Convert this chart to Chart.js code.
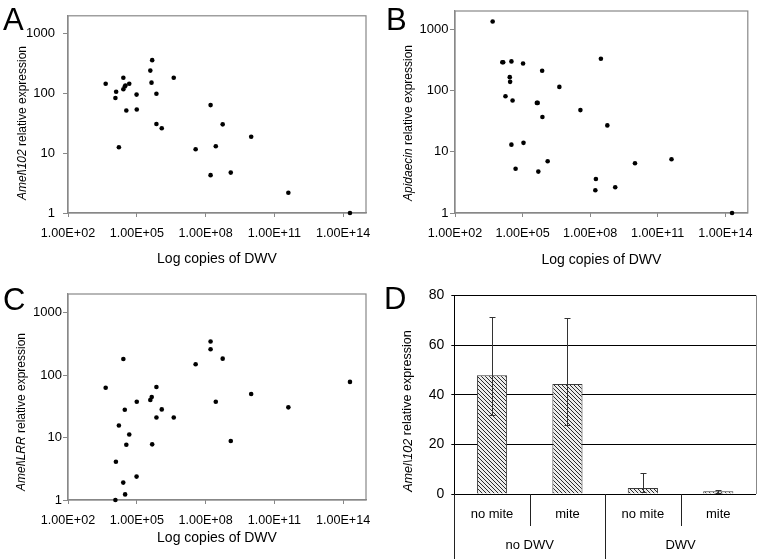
<!DOCTYPE html>
<html lang="en">
<head>
<meta charset="UTF-8">
<title>DWV load and honey bee immune gene expression</title>
<script src="https://cdn.jsdelivr.net/npm/chart.js"></script>
<style>
  body { margin: 0; background: #fff; }
  .figure { position: relative; width: 762px; height: 559px; }
  .panel { position: absolute; }
</style>
</head>
<body>
<div class="figure">
  <canvas class="panel" id="chartA" width="381" height="280" style="left:0;top:0"></canvas>
  <canvas class="panel" id="chartB" width="381" height="280" style="left:381px;top:0"></canvas>
  <canvas class="panel" id="chartC" width="381" height="279" style="left:0;top:280px"></canvas>
  <canvas class="panel" id="chartD" width="381" height="279" style="left:381px;top:280px"></canvas>
</div>

<script>
// axis ticks
const copyTicks = [1e2, 1e5, 1e8, 1e11, 1e14];
const expressionTicks = [1, 10, 100, 1000];
const barTicks = [0, 20, 40, 60, 80];

// A: Amel\102 vs DWV copies
const copiesA = [4.4e3, 1.26e4, 1.17e4, 1.66e4, 2.6e4, 2.6e4, 3.0e4, 3.2e4, 3.5e4, 4.7e4, 9.8e4, 1.0e5, 3.9e5, 4.4e5,
                 4.7e5, 7.2e5, 7.2e5, 1.23e6, 4.1e6, 3.7e7, 1.66e8, 1.66e8, 2.8e8, 5.6e8, 1.26e9, 9.8e9, 4.1e11, 2.0e14];
const expressionA = [146, 107, 84, 12.6, 184, 118, 131, 136, 52, 146, 96, 54, 242, 152,
                     362, 99, 30.9, 26.2, 184, 11.7, 64, 4.3, 13.1, 30.5, 4.75, 18.9, 2.18, 1.0];

// B: Apidaecin vs DWV copies
const copiesB = [4.7e3, 1.26e4, 1.38e4, 3.2e4, 1.05e5, 2.7e4, 2.8e4, 1.74e4, 3.6e4, 7.4e5, 4.3e6, 4.3e5, 4.7e5, 7.6e5,
                 3.7e7, 3.0e8, 5.8e8, 3.2e4, 1.1e5, 4.9e4, 5.0e5, 1.3e6, 1.8e8, 1.7e8, 1.3e9, 9.8e9, 4.1e11, 2.0e14];
const expressionB = [1350, 290, 290, 300, 278, 166, 139, 81, 69, 211, 115, 63, 63, 37,
                     48, 331, 27, 13.1, 14, 5.3, 4.75, 7.0, 3.6, 2.35, 2.63, 6.5, 7.55, 1.0];

// C: Amel\LRR vs DWV copies
const copiesC = [4.4e3, 1.23e4, 1.17e4, 1.66e4, 2.6e4, 2.57e4, 3.0e4, 3.1e4, 3.5e4, 4.7e4, 1.0e5, 9.8e4, 3.9e5, 4.5e5,
                 4.7e5, 7.2e5, 7.2e5, 1.23e6, 4.1e6, 3.7e7, 1.66e8, 1.66e8, 2.8e8, 5.6e8, 1.26e9, 9.8e9, 4.1e11, 2.0e14];
const expressionC = [63, 4.1, 1.0, 15.6, 182, 1.9, 27.9, 1.23, 7.7, 11.2, 37.6, 2.37, 40, 44.6,
                     7.8, 64.6, 21, 28.3, 21, 150, 346, 261, 37.6, 184, 8.8, 50, 30.5, 78];

// D: Amel\102 by mite / DWV status
const treatments = ['no mite', 'mite', 'no mite', 'mite'];
const dwvGroups = ['no DWV', 'DWV'];
const meanExpression = [47.8, 44.3, 2.4, 1.1];
const errHigh = [71.5, 70.9, 8.5, 1.8];
const errLow = [31.9, 27.6, 0.8, 0.6];

Chart.defaults.font.family = '"Liberation Sans", Arial, sans-serif';
Chart.defaults.color = '#000';

function sci(v) {
    const [m, e] = v.toExponential(2).split('e');
    const n = parseInt(e, 10);
    return m + 'E' + (n < 0 ? '-' : '+') + String(Math.abs(n)).padStart(2, '0');
}

const panelLetter = {
    id: 'panelLetter',
    afterDraw(chart, args, opts) {
        const ctx = chart.ctx;
        ctx.save();
        ctx.font = '31px "Liberation Sans", Arial, sans-serif';
        ctx.fillStyle = '#000';
        ctx.textBaseline = 'alphabetic';
        ctx.fillText(opts.text, opts.x, opts.y);
        ctx.restore();
    }
};

// y title with the gene name in italics
const yTitle = {
    id: 'yTitle',
    afterDraw(chart, args, opts) {
        const ctx = chart.ctx;
        const size = opts.size || 12;
        const italic = 'italic ' + size + 'px "Liberation Sans", Arial, sans-serif';
        const plain = size + 'px "Liberation Sans", Arial, sans-serif';
        ctx.save();
        ctx.font = italic;
        const w1 = ctx.measureText(opts.gene).width;
        ctx.font = plain;
        const w2 = ctx.measureText(' relative expression').width;
        ctx.translate(opts.x, opts.y);
        ctx.rotate(-Math.PI / 2);
        ctx.fillStyle = '#000';
        ctx.textBaseline = 'middle';
        ctx.textAlign = 'left';
        const start = -(w1 + w2) / 2;
        ctx.font = italic;
        ctx.fillText(opts.gene, start, 0);
        ctx.font = plain;
        ctx.fillText(' relative expression', start + w1, 0);
        ctx.restore();
    }
};

const boxBorder = {
    id: 'boxBorder',
    beforeDatasetsDraw(chart) {
        const {ctx, chartArea: a} = chart;
        ctx.save();
        ctx.strokeStyle = '#888';
        ctx.lineWidth = 1.2;
        ctx.strokeRect(a.left, a.top, a.right - a.left, a.bottom - a.top);
        ctx.restore();
    }
};

const errorBars = {
    id: 'errorBars',
    afterDatasetsDraw(chart) {
        const {ctx, scales: {y}} = chart;
        const bars = chart.getDatasetMeta(0).data;
        ctx.save();
        ctx.strokeStyle = '#333';
        ctx.lineWidth = 1;
        bars.forEach((bar, i) => {
            const cx = Math.round(bar.x) + 0.5;
            const top = Math.round(y.getPixelForValue(errHigh[i])) + 0.5;
            const bottom = Math.round(y.getPixelForValue(errLow[i])) + 0.5;
            ctx.beginPath();
            ctx.moveTo(cx, top); ctx.lineTo(cx, bottom);
            ctx.moveTo(cx - 3, top); ctx.lineTo(cx + 3, top);
            ctx.moveTo(cx - 3, bottom); ctx.lineTo(cx + 3, bottom);
            ctx.stroke();
        });
        ctx.restore();
    }
};

// vertical lines between the category labels under panel D
const categoryDividers = {
    id: 'categoryDividers',
    afterDraw(chart) {
        const {ctx, chartArea: a, scales: {x, x2}} = chart;
        ctx.save();
        ctx.lineWidth = 1;
        for (let i = 0; i <= treatments.length; i++) {
            const px = Math.round(x.getPixelForValue(i - 0.5)) + 0.5;
            ctx.beginPath();
            if (i === treatments.length) {
                ctx.strokeStyle = '#888';
                ctx.moveTo(px, a.top); ctx.lineTo(px, a.bottom);
            } else {
                ctx.strokeStyle = '#222';
                ctx.moveTo(px, a.bottom);
                ctx.lineTo(px, i % 2 === 0 ? x2.bottom : x.bottom);
            }
            ctx.stroke();
        }
        ctx.restore();
    }
};

function hatch() {
    const c = document.createElement('canvas');
    c.width = 4; c.height = 4;
    const g = c.getContext('2d');
    g.fillStyle = '#ececec';
    g.fillRect(0, 0, 4, 4);
    g.strokeStyle = '#2a2a2a';
    g.lineWidth = 1;
    g.beginPath();
    g.moveTo(-1, -1); g.lineTo(5, 5);
    g.moveTo(-1, 3); g.lineTo(1, 5);
    g.moveTo(3, -1); g.lineTo(5, 1);
    g.stroke();
    return g.createPattern(c, 'repeat');
}

function scatterPanel(canvasId, letter, gene, copies, expression, lay) {
    return new Chart(document.getElementById(canvasId), {
        type: 'scatter',
        data: {
            datasets: [{
                data: copies.map((c, i) => ({x: c, y: expression[i]})),
                backgroundColor: '#000',
                pointRadius: 2.3,
                borderWidth: 0,
                clip: false
            }]
        },
        options: {
            responsive: false,
            animation: false,
            layout: { padding: lay.padding },
            plugins: {
                legend: { display: false },
                tooltip: { enabled: false },
                panelLetter: { text: letter, x: lay.letter[0], y: lay.letter[1] },
                yTitle: { gene: gene, x: lay.title[0], y: lay.title[1], size: 12 }
            },
            scales: {
                x: {
                    type: 'logarithmic',
                    min: 1e2,
                    max: 1e15,
                    afterBuildTicks: s => { s.ticks = copyTicks.map(v => ({value: v})); },
                    afterFit: s => { s.height = lay.xHeight; },
                    ticks: { callback: v => sci(v), autoSkip: false, maxRotation: 0, padding: lay.xPad, font: { size: 12.6 } },
                    grid: { drawOnChartArea: false, color: '#888', tickLength: 4 },
                    border: { color: '#888', width: 1.2 },
                    title: { display: true, text: 'Log copies of DWV', font: { size: 14 }, padding: { top: 0, bottom: lay.xTitlePad } }
                },
                y: {
                    type: 'logarithmic',
                    min: 1,
                    max: 2000,
                    afterBuildTicks: s => { s.ticks = expressionTicks.map(v => ({value: v})); },
                    afterFit: s => { s.width = lay.yWidth; },
                    ticks: { callback: v => String(v), padding: lay.yPad, font: { size: 13 } },
                    grid: { drawOnChartArea: false, color: '#888', tickLength: 5 },
                    border: { color: '#888', width: 1.2 }
                }
            }
        },
        plugins: [boxBorder, panelLetter, yTitle]
    });
}

scatterPanel('chartA', 'A', 'Amel\\102', copiesA, expressionA, {
    padding: { left: 0, top: 11, right: 15, bottom: 0 },
    yWidth: 68, xHeight: 67, xPad: 9.2, xTitlePad: 12.1, yPad: 8,
    title: [23, 123], letter: [3, 30]
});

scatterPanel('chartB', 'B', 'Apidaecin', copiesB, expressionB, {
    padding: { left: 0, top: 11, right: 5, bottom: 0 },
    yWidth: 74, xHeight: 67, xPad: 9.2, xTitlePad: 11.6, yPad: 1.5,
    title: [28, 123], letter: [5, 30]
});

scatterPanel('chartC', 'C', 'Amel\\LRR', copiesC, expressionC, {
    padding: { left: 0, top: 14, right: 15, bottom: 0 },
    yWidth: 68, xHeight: 59, xPad: 9.3, xTitlePad: 12.3, yPad: 1,
    title: [22, 132], letter: [3, 30]
});

new Chart(document.getElementById('chartD'), {
    type: 'bar',
    data: {
        labels: treatments,
        datasets: [{
            data: meanExpression,
            backgroundColor: hatch(),
            borderColor: '#3a3a3a',
            borderWidth: 1,
            barPercentage: 0.4,
            categoryPercentage: 1
        }]
    },
    options: {
        responsive: false,
        animation: false,
        layout: { padding: { left: 0, top: 15, right: 6, bottom: 0 } },
        plugins: {
            legend: { display: false },
            tooltip: { enabled: false },
            panelLetter: { text: 'D', x: 3, y: 28.5 },
            yTitle: { gene: 'Amel\\102', x: 27, y: 131, size: 12.6 }
        },
        scales: {
            x: {
                weight: 0,
                grid: { display: false, drawTicks: false },
                border: { display: false },
                afterFit: s => { s.height = 32; },
                ticks: { padding: 12.5, font: { size: 13 } }
            },
            x2: {
                type: 'category',
                position: 'bottom',
                weight: 1,
                labels: dwvGroups,
                offset: true,
                grid: { display: false, drawTicks: false },
                border: { display: false },
                afterFit: s => { s.height = 33; },
                ticks: { padding: 11.5, font: { size: 13 } }
            },
            y: {
                min: 0,
                max: 80,
                afterBuildTicks: s => { s.ticks = barTicks.map(v => ({value: v})); },
                afterFit: s => { s.width = 73.3; },
                ticks: { padding: 7, font: { size: 14 } },
                grid: { color: '#000', tickLength: 3 },
                border: { color: '#000' }
            }
        }
    },
    plugins: [panelLetter, yTitle, errorBars, categoryDividers]
});
</script>
</body>
</html>
